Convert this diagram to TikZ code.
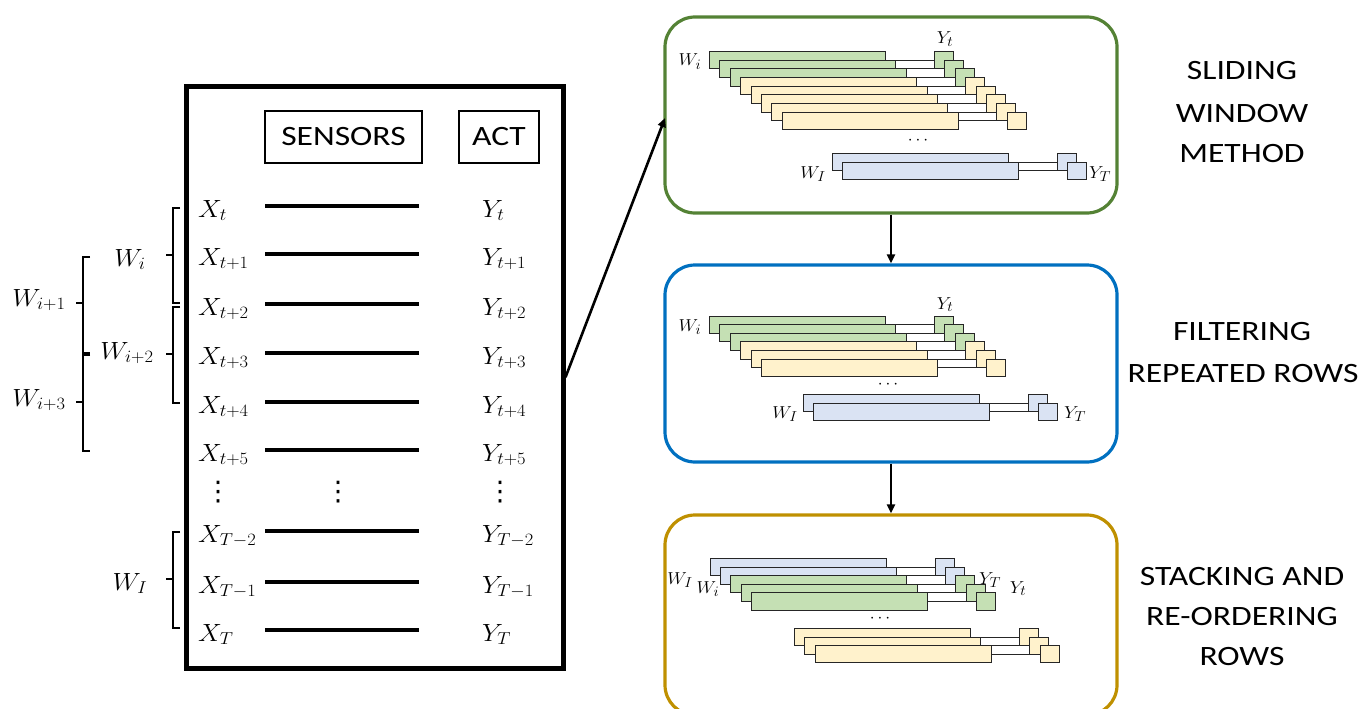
\documentclass[tikz,border=0pt]{standalone}
\usepackage{graphicx}
\usepackage{fontspec}
\setmainfont{Carlito}[FakeStretch=1.2]
\newfontfamily\symfont{DejaVu Sans}
\usetikzlibrary{arrows.meta}

\definecolor{swgreen}{HTML}{548235}
\definecolor{frblue}{HTML}{0070C0}
\definecolor{sogold}{HTML}{BF9000}
\definecolor{barg}{HTML}{C5E0B4}
\definecolor{bary}{HTML}{FFF2CC}
\definecolor{barb}{HTML}{DAE3F3}

% slightly widened math labels
\newcommand\mlab[1]{\scalebox{1.07}[1]{$#1$}}

% a stack of windows: #1,#2 top-left of first bar, #3 number of rows, #4 fill colours
\newcommand\winrows[4]{%
  \foreach \c [count=\k from 0] in {#4}{
    \pgfmathsetmacro\xx{#1+\k*10.4}
    \pgfmathsetmacro\yy{#2+\k*8.6}
    \filldraw[bar, fill=\c] (\xx,\yy) rectangle (\xx+176,\yy+17.2);
    \ifnum\k<\numexpr#3-1\relax
      \filldraw[bar, fill=white] (\xx+176,\yy+8.6) rectangle (\xx+225,\yy+17.2);
    \fi
    \filldraw[bar, fill=\c] (\xx+225,\yy) rectangle (\xx+244,\yy+17.2);
  }%
}

\begin{document}
\begin{tikzpicture}[x=1pt,y=-1pt,
  bar/.style={draw=black!85, line width=0.8pt},
  stage/.style={draw, line width=3.2pt, rounded corners=30pt, minimum width=452pt, inner sep=0pt},
  hdr/.style={draw, line width=1.3pt, minimum height=52pt, inner sep=0pt, font=\fontsize{28}{34}\selectfont},
  stagecap/.style={anchor=base, inner sep=0pt, font=\fontsize{28}{34}\selectfont},
  ml/.style={anchor=base west, inner sep=0pt, font=\fontsize{23}{27}\selectfont},
  wl/.style={anchor=base, inner sep=0pt, font=\fontsize{23}{27}\selectfont},
  sl/.style={anchor=base, inner sep=0pt, font=\fontsize{19}{22}\selectfont},
  dt/.style={inner sep=0pt, font=\symfont\fontsize{27}{30}\selectfont},
  sdt/.style={inner sep=0pt, font=\fontsize{17}{20}\selectfont},
  brk/.style={line width=2.5pt},
  rowline/.style={line width=3.2pt},
  link/.style={line width=2.6pt, -{Triangle[length=9pt,width=8pt]}},
]
\useasboundingbox (0,0) rectangle (1360,709);

% ---- data table ----
\node[draw, line width=5pt, minimum width=376.5pt, minimum height=581.5pt, inner sep=0pt] (tab) at (374.75,377.25) {};
\node[hdr, minimum width=157pt] (sens) at (343.5,137) {SENSORS};
\node[hdr, minimum width=80pt] (act) at (499,137) {ACT};

\foreach \y/\s [count=\i] in {206/t, 254/t+1, 304/t+2, 353/t+3, 402/t+4, 450/t+5, 531/T-2, 582/T-1, 630/T}{
  \node[ml] (x\i) at (198,\y+11) {\mlab{X_{\s}}};
  \draw[rowline] (265,\y) -- (419,\y);
  \node[ml] (y\i) at (482,\y+11) {\mlab{Y_{\s}}};
}
\node[dt] (vd1) at (218,492) {⋮};
\node[dt] (vd2) at (338,492) {⋮};
\node[dt] (vd3) at (500,492) {⋮};

% ---- window brackets ----
\draw[brk] (180,208) -- (173,208) -- (173,303) -- (180,303);
\draw[brk] (173,255) -- (166,255);
\draw[brk] (180,307) -- (173,307) -- (173,403) -- (180,403);
\draw[brk] (173,354) -- (166,354);
\draw[brk] (90,257) -- (83,257) -- (83,353) -- (90,353);
\draw[brk] (83,303) -- (76,303);
\draw[brk] (90,355) -- (83,355) -- (83,451) -- (90,451);
\draw[brk] (83,402) -- (76,402);
\draw[brk] (180,532) -- (173,532) -- (173,628) -- (180,628);
\draw[brk] (173,579) -- (166,579);

\node[wl] (wi)  at (130,266) {\mlab{W_{i}}};
\node[wl] (wi1) at (39,306)  {\mlab{W_{i+1}}};
\node[wl] (wi2) at (127,359) {\mlab{W_{i+2}}};
\node[wl] (wi3) at (39,406)  {\mlab{W_{i+3}}};
\node[wl] (wI)  at (130,590) {\mlab{W_{I}}};

% ---- stage frames ----
\node[stage, draw=swgreen, minimum height=196pt] (sw) at (891,115) {};
\node[stage, draw=frblue, minimum height=197pt] (fr) at (891,363.5) {};
\node[stage, draw=sogold, minimum height=200pt] (so) at (891,615) {};

\coordinate (swin) at (665,118);
\draw[link] (tab.east) -- (swin);
\draw[link] (sw.south) -- (fr.north);
\draw[link] (fr.south) -- (so.north);

% ---- sliding window ----
\winrows{709.3}{51.7}{8}{barg,barg,barg,bary,bary,bary,bary,bary}
\winrows{832.3}{153.3}{2}{barb,barb}
\node[sl] (s1wi) at (690,66)   {\mlab{W_{i}}};
\node[sl] (s1yt) at (945,44)   {\mlab{Y_{t}}};
\node[sl] (s1wI) at (813,178)  {\mlab{W_{I}}};
\node[sl] (s1yT) at (1100,178) {\mlab{Y_{T}}};
\node[sdt] (s1d) at (918,141) {$\cdots$};

% ---- filtering ----
\winrows{709.3}{316}{6}{barg,barg,barg,bary,bary,bary}
\winrows{803.3}{394.3}{2}{barb,barb}
\node[sl] (s2wi) at (690,331)  {\mlab{W_{i}}};
\node[sl] (s2yt) at (945,309)  {\mlab{Y_{t}}};
\node[sl] (s2wI) at (785,418)  {\mlab{W_{I}}};
\node[sl] (s2yT) at (1075,418) {\mlab{Y_{T}}};
\node[sdt] (s2d) at (888,385) {$\cdots$};

% ---- stacking and re-ordering ----
\winrows{710}{558.3}{5}{barb,barb,barg,barg,barg}
\winrows{794.3}{628.3}{3}{bary,bary,bary}
\node[sl] (s3wI) at (680,584)  {\mlab{W_{I}}};
\node[sl] (s3wi) at (708,593)  {\mlab{W_{i}}};
\node[sl] (s3yT) at (990,584)  {\mlab{Y_{T}}};
\node[sl] (s3yt) at (1018,593) {\mlab{Y_{t}}};
\node[sdt] (s3d) at (880,619) {$\cdots$};

% ---- stage captions ----
\node[stagecap] (c1a) at (1242,80)  {SLIDING};
\node[stagecap] (c1b) at (1242,122) {WINDOW};
\node[stagecap] (c1c) at (1242,162) {METHOD};
\node[stagecap] (c2a) at (1242,340) {FILTERING};
\node[stagecap] (c2b) at (1243,382) {REPEATED ROWS};
\node[stagecap] (c3a) at (1242,585) {STACKING AND};
\node[stagecap] (c3b) at (1242,625) {RE-ORDERING};
\node[stagecap] (c3c) at (1242,665) {ROWS};
\end{tikzpicture}
\end{document}
